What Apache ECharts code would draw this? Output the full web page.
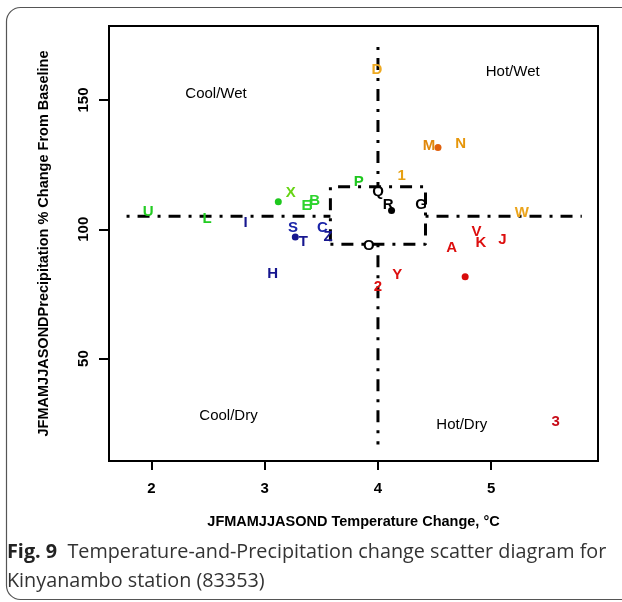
<!DOCTYPE html>
<html>
<head>
<meta charset="utf-8">
<script src="https://cdn.jsdelivr.net/npm/echarts@6/dist/echarts.min.js"></script>
<style>
  html, body { margin: 0; padding: 0; background: #fff; }
  #chart { width: 622px; height: 602px; }
</style>
</head>
<body>
<div id="chart"></div>
<script>
// Temperature change (°C) and precipitation change (% of baseline), JFMAMJJASOND
const pointLabels = ['U', 'L', 'X', 'E', 'F', 'B', 'P',
                     'I', 'S', 'T', 'C', 'Z', 'H',
                     'Q', 'R', 'G', 'O',
                     'D', 'M', 'N', '1', 'W',
                     'V', 'K', 'J', 'A', 'Y', '2', '3'];
const pointTemp   = [1.97, 2.49, 3.23, 3.37, 3.43, 3.44, 3.83,
                     2.83, 3.25, 3.34, 3.51, 3.56, 3.07,
                     4.00, 4.09, 4.38, 3.92,
                     3.99, 4.45, 4.73, 4.21, 5.27,
                     4.87, 4.91, 5.10, 4.65, 4.17, 4.00, 5.57];
const pointPrecip = [106.7, 104.1, 114.2, 109.0, 109.3, 110.9, 118.3,
                     102.4, 100.7, 95.1, 100.5, 97.0, 82.9,
                     114.4, 109.3, 109.3, 93.5,
                     161.7, 132.2, 133.1, 120.6, 106.3,
                     99.0, 94.7, 96.1, 92.9, 82.2, 77.7, 25.5];
const pointColor  = ['#22cc22', '#22cc22', '#66d414', '#2ed42e', '#2ed42e', '#2ed42e', '#1ec81e',
                     '#16168f', '#1a24a8', '#16168f', '#1a24a8', '#16168f', '#16168f',
                     '#000000', '#000000', '#000000', '#000000',
                     '#eeaa22', '#e0880c', '#e6960a', '#e6a012', '#eba41c',
                     '#dd0f0f', '#dd0f0f', '#dd0f0f', '#dd0f0f', '#dd0f0f', '#dd0f0f', '#c80c18'];

// ensemble means marked by dots
const dotTemp   = [3.12, 3.27, 4.12, 4.53, 4.77];
const dotPrecip = [110.6, 97.0, 107.3, 131.6, 81.6];
const dotColor  = ['#1ec81e', '#16168f', '#000000', '#e0600c', '#d80c0c'];

// quadrant names
const regionNames  = ['Cool/Wet', 'Hot/Wet', 'Cool/Dry', 'Hot/Dry'];
const regionTemp   = [2.57, 5.19, 2.68, 4.74];
const regionPrecip = [152.3, 160.8, 28.0, 24.3];

// quadrant dividers and the central box
const splitTemp = 4;
const splitPrecip = 105;
const vLineSpans = [[170.5, 116.4], [94.2, 16.8]];
const hLineSpans = [[1.78, 3.58], [4.42, 5.80]];
const boxTemp = [3.58, 4.42];
const boxPrecip = [94.2, 116.4];

// axis ticks
const tempTicks = [2, 3, 4, 5];
const precipTicks = [50, 100, 150];

const dashStyle = { color: '#000', width: 3, type: [3, 8, 12, 8], cap: 'butt' };
const lineSeries = [];
vLineSpans.forEach(s => lineSeries.push([[splitTemp, s[0]], [splitTemp, s[1]]]));
hLineSpans.forEach(s => lineSeries.push([[s[0], splitPrecip], [s[1], splitPrecip]]));
lineSeries.push([
  [boxTemp[0], boxPrecip[0]], [boxTemp[1], boxPrecip[0]],
  [boxTemp[1], boxPrecip[1]], [boxTemp[0], boxPrecip[1]],
  [boxTemp[0], boxPrecip[0]]
]);

const series = lineSeries.map(d => ({
  type: 'line', data: d, showSymbol: false, silent: true,
  lineStyle: dashStyle, z: 2
}));

series.push({
  type: 'scatter',
  data: dotTemp.map((t, i) => ({ value: [t, dotPrecip[i]], itemStyle: { color: dotColor[i] } })),
  symbolSize: 7, z: 3, silent: true,
  itemStyle: { opacity: 1 }
});

const sans = 'Liberation Sans, Arial, sans-serif';

series.push({
  type: 'scatter',
  data: pointLabels.map((l, i) => ({
    value: [pointTemp[i], pointPrecip[i]], name: l,
    label: { color: pointColor[i] }
  })),
  symbolSize: 1, itemStyle: { color: 'transparent', opacity: 1 }, z: 4, silent: true,
  label: {
    show: true, position: 'inside', formatter: p => p.name,
    fontFamily: sans, fontSize: 15, fontWeight: 'bold'
  }
});

series.push({
  type: 'scatter',
  data: regionNames.map((n, i) => ({ value: [regionTemp[i], regionPrecip[i]], name: n })),
  symbolSize: 1, itemStyle: { color: 'transparent', opacity: 1 }, z: 4, silent: true,
  label: {
    show: true, position: 'inside', formatter: p => p.name, color: '#000',
    fontFamily: sans, fontSize: 15
  }
});

const chart = echarts.init(document.getElementById('chart'), null, { renderer: 'canvas' });
chart.setOption({
  animation: false,
  backgroundColor: '#fff',
  grid: {
    left: 109, right: 24, top: 26, bottom: 141,
    show: true, borderColor: '#000', borderWidth: 2, backgroundColor: 'transparent'
  },
  xAxis: {
    type: 'value', min: 1.625, max: 5.943,
    name: 'JFMAMJJASOND Temperature Change, °C',
    nameLocation: 'middle', nameGap: 53,
    nameTextStyle: { fontFamily: sans, fontSize: 14.5, fontWeight: 'bold', color: '#000' },
    splitLine: { show: false },
    axisLine: { show: false },
    axisTick: { show: true, customValues: tempTicks, length: 9, lineStyle: { color: '#000', width: 2 } },
    axisLabel: {
      customValues: tempTicks, margin: 20, color: '#000',
      fontFamily: sans, fontSize: 15, fontWeight: 'bold'
    }
  },
  yAxis: {
    type: 'value', min: 10.4, max: 178.6,
    name: 'JFMAMJJASONDPrecipitation % Change From Baseline',
    nameLocation: 'middle', nameGap: 58, nameRotate: 90,
    nameTextStyle: { fontFamily: sans, fontSize: 14.5, fontWeight: 'bold', color: '#000' },
    splitLine: { show: false },
    axisLine: { show: false },
    axisTick: { show: true, customValues: precipTicks, length: 10, lineStyle: { color: '#000', width: 2 } },
    axisLabel: {
      customValues: precipTicks, margin: 18, rotate: 90, color: '#000',
      fontFamily: sans, fontSize: 15, fontWeight: 'bold'
    }
  },
  graphic: [
    {
      type: 'rect', silent: true, z: -1,
      shape: { x: 6.5, y: 7.5, width: 640, height: 592, r: 14 },
      style: { fill: 'none', stroke: '#555', lineWidth: 1.2 }
    },
    {
      type: 'text', left: 7, top: 538, silent: true,
      style: {
        text: '{b|Fig. 9}  Temperature-and-Precipitation change scatter diagram for\nKinyanambo station (83353)',
        fill: '#333', fontFamily: 'Open Sans, sans-serif', fontSize: 19.8, lineHeight: 29,
        rich: { b: { fontFamily: 'Open Sans, sans-serif', fontWeight: 'bold', fontSize: 19.8, fill: '#222' } }
      }
    }
  ],
  series: series
});
</script>
</body>
</html>
